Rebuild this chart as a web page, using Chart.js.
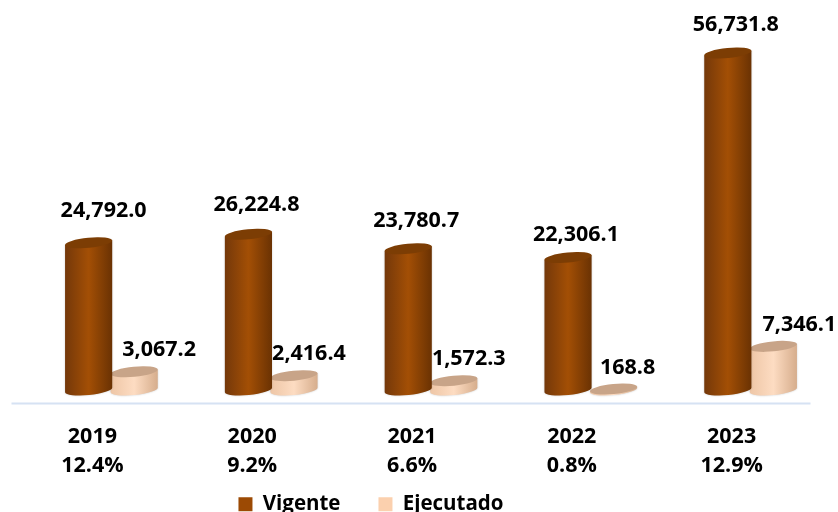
<!DOCTYPE html>
<html><head><meta charset="utf-8">
<script src="https://cdn.jsdelivr.net/npm/chart.js@4"></script>
<style>html,body{margin:0;padding:0;background:#fff}#w{width:838px;height:512px;position:relative}</style>
</head><body><div id="w"><canvas id="c"></canvas></div>
<script>
const years = ['2019','2020','2021','2022','2023'];
const percents = ['12.4%','9.2%','6.6%','0.8%','12.9%'];
const vigente = [24792.0,26224.8,23780.7,22306.1,56731.8];
const ejecutado = [3067.2,2416.4,1572.3,168.8,7346.1];

const FONT = '"Open Sans", sans-serif';
const shades = {
  '#9c4a04': {edgeL:'#74380a',mid:'#a34f05',edgeR:'#6a3203',top:'#7c3d04'},
  '#fbd0ae': {edgeL:'#eec6a6',mid:'#fddcc2',edgeR:'#d6ad8c',top:'#c8a488'}
};
const RY = 5, PHI = -0.1;
Chart.BarElement.prototype.draw = function(ctx){
  const {x,y,base,width} = this.getProps(['x','y','base','width']);
  const s = shades[this.options.backgroundColor];
  const r = width/2, dx = r*Math.cos(PHI), dy = r*Math.sin(PHI);
  const g = ctx.createLinearGradient(x-r,0,x+r,0);
  g.addColorStop(0,s.edgeL); g.addColorStop(.5,s.mid); g.addColorStop(1,s.edgeR);
  ctx.save();
  ctx.shadowColor='rgba(0,0,0,.22)'; ctx.shadowBlur=2;
  ctx.beginPath();
  ctx.moveTo(x-dx,y-dy);
  ctx.lineTo(x-dx,base-dy);
  ctx.ellipse(x,base,r,RY,PHI,Math.PI,0,true);
  ctx.lineTo(x+dx,y+dy);
  ctx.closePath();
  ctx.fillStyle=g; ctx.fill();
  ctx.shadowColor='transparent';
  ctx.beginPath();
  ctx.ellipse(x,y,r,RY,PHI,0,Math.PI*2);
  ctx.fillStyle=s.top; ctx.fill();
  ctx.restore();
};

const labelOffsets = [
  [[15,-32],[8,-29],[8,-28],[8,-23],[8,-28]],
  [[25,-22],[15,-22],[15,-22],[14,-21],[26,-21]]
];
const fmt = v => v.toLocaleString('en-US',{minimumFractionDigits:1,maximumFractionDigits:1});
const extras = {
  id:'extras',
  beforeDraw(chart){
    const {ctx,scales:{x,y}} = chart;
    const b = y.getPixelForValue(y.min);
    ctx.save();
    ctx.strokeStyle='#d6e2f3'; ctx.lineWidth=2;
    ctx.beginPath(); ctx.moveTo(x.left-20,b); ctx.lineTo(x.right-20,b); ctx.stroke();
    ctx.restore();
    chart.legend.left=0; chart.legend.right=742;
    chart.legend.top=456;
  },
  afterDatasetsDraw(chart){
    const ctx=chart.ctx;
    ctx.save();
    ctx.font='bold 21.5px '+FONT; ctx.fillStyle='#000';
    ctx.textAlign='center'; ctx.textBaseline='middle';
    chart.data.datasets.forEach((ds,i)=>{
      chart.getDatasetMeta(i).data.forEach((el,j)=>{
        const o=labelOffsets[i][j];
        ctx.fillText(fmt(ds.data[j]),el.x+o[0],el.y+o[1]);
      });
    });
    ctx.restore();
  }
};

new Chart(document.getElementById('c'),{
  type:'bar',
  data:{labels:years.map((y,i)=>[y,percents[i]]),datasets:[
    {label:'Vigente',data:vigente,backgroundColor:'#9c4a04',categoryPercentage:.57,barPercentage:1.04},
    {label:'Ejecutado',data:ejecutado,backgroundColor:'#fbd0ae',categoryPercentage:.57,barPercentage:1.04}
  ]},
  options:{
    responsive:true,maintainAspectRatio:false,animation:false,
    layout:{padding:{left:31.5,right:7.5,top:0,bottom:0}},
    plugins:{
      tooltip:{enabled:false},
      legend:{position:'bottom',maxHeight:32,
        labels:{color:'#000',font:{family:FONT,size:20.5,weight:'bold'},boxWidth:14,boxHeight:14,padding:38}}
    },
    scales:{
      x:{grid:{display:false},border:{display:false},
        ticks:{color:'#000',font:{family:FONT,size:21.5,weight:'bold',lineHeight:1.35},padding:11,maxRotation:0,labelOffset:-19},
        afterFit(s){s.height=76.5;}},
      y:{display:false,min:-2272,max:65657}
    }
  },
  plugins:[extras]
});
</script></body></html>
